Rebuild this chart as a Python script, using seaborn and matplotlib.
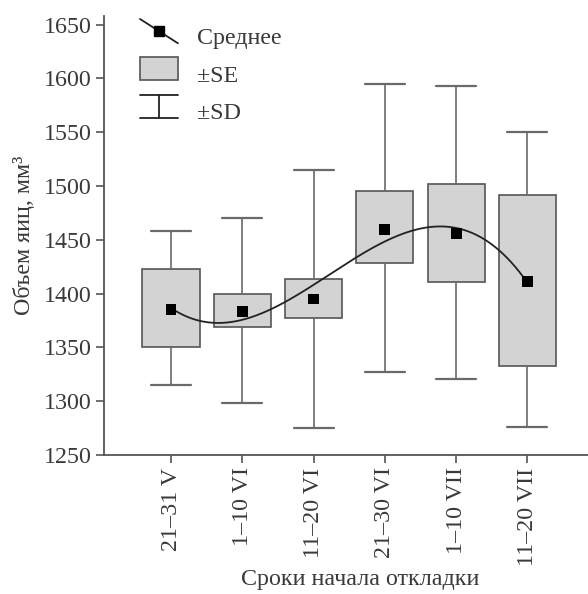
import numpy as np
import matplotlib
matplotlib.use("Agg")
import matplotlib.pyplot as plt
import seaborn as sns
from matplotlib.legend_handler import HandlerBase
from matplotlib.lines import Line2D
from matplotlib.patches import Rectangle

# ---- data ----
categories = ["21–31 V", "1–10 VI", "11–20 VI", "21–30 VI", "1–10 VII", "11–20 VII"]
mean_vals = [1385, 1383, 1395, 1460, 1456, 1411]
se_low = [1350, 1369, 1377, 1428, 1411, 1333]
se_high = [1423, 1400, 1414, 1495, 1502, 1492]
sd_low = [1315, 1298, 1275, 1327, 1321, 1276]
sd_high = [1458, 1470, 1515, 1595, 1593, 1550]
y_ticks = [1250, 1300, 1350, 1400, 1450, 1500, 1550, 1600, 1650]
legend_labels = ["Среднее", "±SE", "±SD"]
x_label = "Сроки начала откладки"
y_label = "Объем яиц, мм³"

# ---- style ----
sns.set_theme(style="ticks")
plt.rcParams["font.family"] = ["Liberation Serif", "DejaVu Serif"]
FS = 17.3
TEXT = "#3a3a3a"
EDGE = "#555555"
WHISK = "#6a6a6a"
FACE = "#d3d3d3"
HANDLE_RAISE = 3.6  # points: handles sit a little above the text centre

W, H = 588, 594
fig = plt.figure(figsize=(W / 100, H / 100), dpi=100)
ax = fig.add_axes([104 / W, 1 - 455 / H, 1 - 104 / W, (455 - 16) / H])

pos = np.arange(len(categories))
stats = [
    dict(med=m, q1=a, q3=b, whislo=c, whishi=d, label=cat)
    for m, a, b, c, d, cat in zip(mean_vals, se_low, se_high, sd_low, sd_high, categories)
]
ax.bxp(
    stats, positions=pos, widths=0.8, capwidths=0.56, showfliers=False,
    patch_artist=True,
    boxprops=dict(facecolor=FACE, edgecolor=EDGE, linewidth=1.2),
    whiskerprops=dict(color=WHISK, linewidth=1.2),
    capprops=dict(color=WHISK, linewidth=1.6),
    medianprops=dict(visible=False),
)

# cubic trend through the means
coef = np.polyfit(pos, mean_vals, 3)
xs = np.linspace(pos[0], pos[-1], 300)
sns.lineplot(x=xs, y=np.polyval(coef, xs), ax=ax, color="#222222", linewidth=1.3, zorder=4)
sns.scatterplot(x=pos, y=mean_vals, ax=ax, marker="s", s=62, color="black",
                edgecolor="none", zorder=5)

ax.set_xlim(-0.94, 5.85)
ax.set_ylim(1250, 1658)
ax.set_yticks(y_ticks)
ax.set_yticklabels([str(v) for v in y_ticks], fontsize=FS, color=TEXT)
ax.set_xticks(pos)
ax.set_xticklabels(categories, rotation=90, fontsize=FS, color=TEXT, va="top", ha="center")
ax.tick_params(axis="both", direction="out", length=6, width=1.2, color=EDGE, pad=3)
sns.despine(ax=ax)
for s in ("left", "bottom"):
    ax.spines[s].set_color(EDGE)
    ax.spines[s].set_linewidth(1.3)
ax.set_xlabel(x_label, fontsize=FS, color=TEXT)
ax.set_ylabel(y_label, fontsize=FS, color=TEXT)
ax.xaxis.set_label_coords(0.53, -0.26)
ax.yaxis.set_label_coords(-0.142, 0.5)


# ---- custom legend ----
class MeanKey: pass
class SEKey: pass
class SDKey: pass


class MeanHandler(HandlerBase):
    def create_artists(self, legend, orig, xd, yd, width, height, fontsize, trans):
        x0, x1 = -xd, -xd + width
        yc = -yd + height / 2 + HANDLE_RAISE
        dy = 0.32 * width
        ln = Line2D([x0, x1], [yc + dy, yc - dy], color="#222222", lw=1.3, transform=trans)
        mk = Line2D([(x0 + x1) / 2], [yc], marker="s", ms=7.2, color="black",
                    ls="none", transform=trans)
        return [ln, mk]


class SEHandler(HandlerBase):
    def create_artists(self, legend, orig, xd, yd, width, height, fontsize, trans):
        x0 = -xd
        yc = -yd + height / 2 + HANDLE_RAISE
        hh = 0.62 * width
        r = Rectangle((x0, yc - hh / 2), width, hh, facecolor=FACE, edgecolor=EDGE,
                      lw=1.2, transform=trans)
        return [r]


class SDHandler(HandlerBase):
    def create_artists(self, legend, orig, xd, yd, width, height, fontsize, trans):
        x0, x1 = -xd, -xd + width
        yc = -yd + height / 2 + HANDLE_RAISE
        hh = 0.6 * width
        xm = (x0 + x1) / 2
        kw = dict(color="#222222", lw=1.3, transform=trans)
        return [Line2D([x0, x1], [yc + hh / 2] * 2, **kw),
                Line2D([x0, x1], [yc - hh / 2] * 2, **kw),
                Line2D([xm, xm], [yc - hh / 2, yc + hh / 2], **kw)]


leg = ax.legend(
    [MeanKey(), SEKey(), SDKey()], legend_labels,
    handler_map={MeanKey: MeanHandler(), SEKey: SEHandler(), SDKey: SDHandler()},
    loc="upper left", bbox_to_anchor=((140 - 104) / 484, 1 - (25 - 16) / 439),
    frameon=False, fontsize=FS, handlelength=1.58, handleheight=1.05,
    handletextpad=0.8, labelspacing=0.55, borderaxespad=0, borderpad=0,
)
for t in leg.get_texts():
    t.set_color(TEXT)

fig.savefig("out.png", dpi=100)
